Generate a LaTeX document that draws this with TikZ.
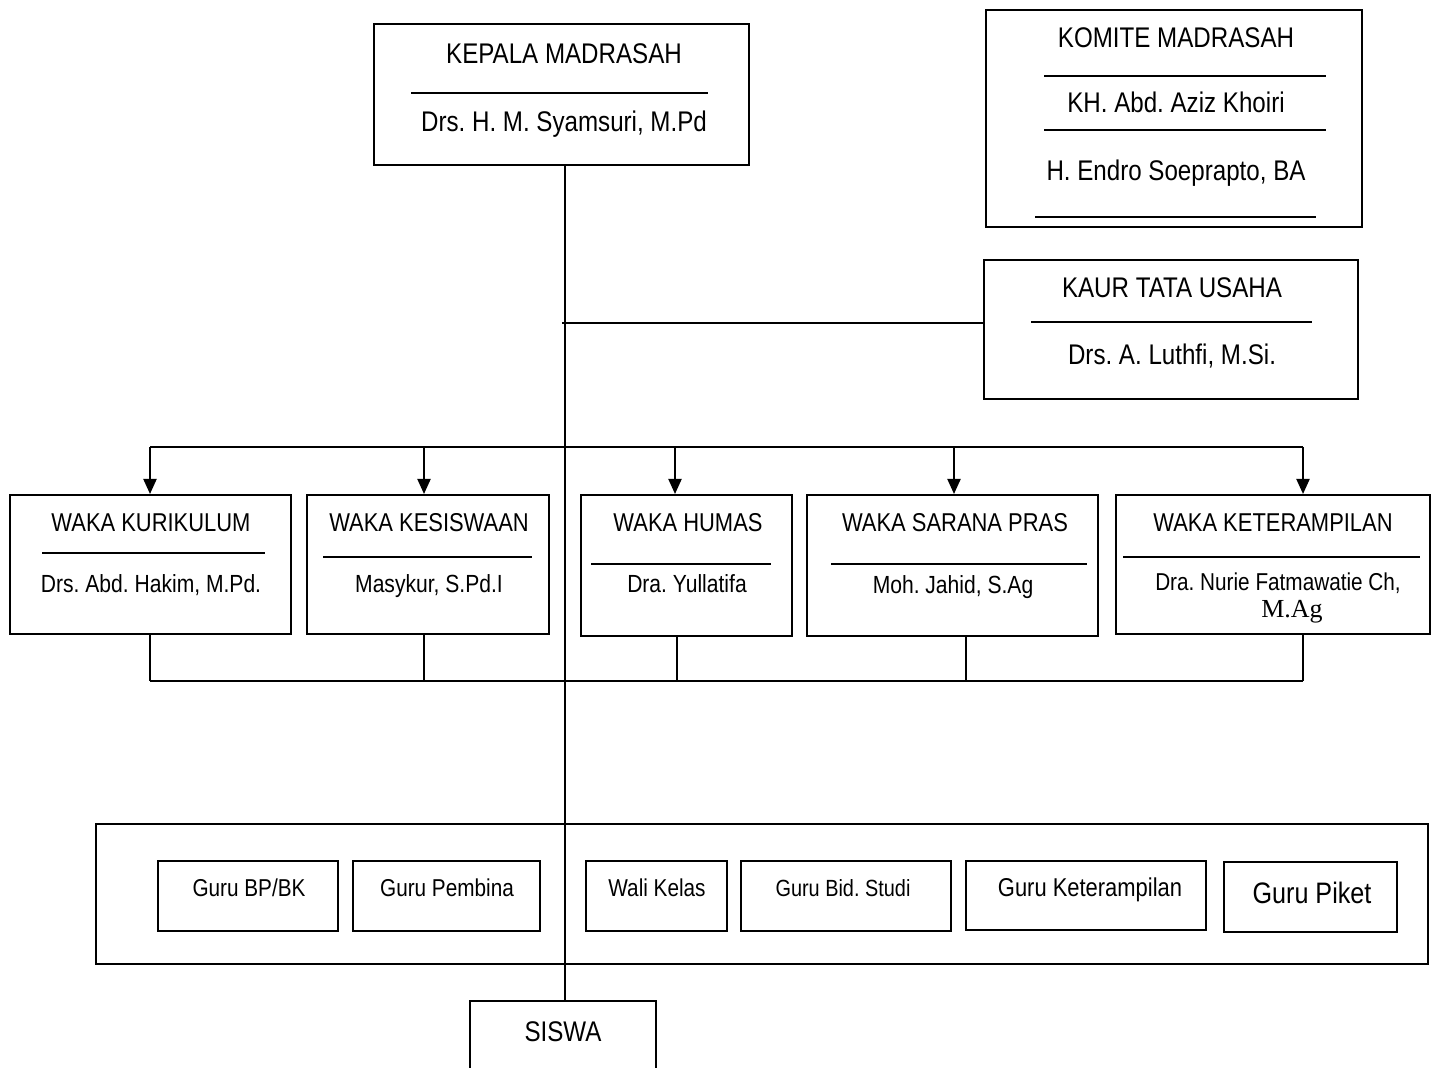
\documentclass[tikz,border=0pt]{standalone}
\usepackage{fontspec}
\setmainfont{Liberation Sans}[FakeStretch=0.85]
\newfontfamily\agfont{Liberation Serif}
\usetikzlibrary{arrows.meta}
\usetikzlibrary{fit}
\frenchspacing
\tikzset{
  box/.style={draw, line width=1pt, inner sep=0pt},
  head/.style={anchor=base, inner sep=0pt, font=\fontsize{14.2}{17}\selectfont},
  waka/.style={anchor=base, inner sep=0pt, font=\fontsize{12.9}{15}\selectfont},
  pejabat/.style={anchor=base, inner sep=0pt, font=\fontsize{12.4}{15}\selectfont},
  guru/.style={anchor=base, inner sep=0pt, font=\fontsize{12.2}{15}\selectfont},
  arr/.style={-{Triangle[width=6.5pt,length=7.5pt]}, line width=1pt},
}

\begin{document}
\begin{tikzpicture}[x=0.5pt,y=-0.5pt,line width=1pt]
\useasboundingbox (0,0) rectangle (1438,1068);
\clip (0,0) rectangle (1438,1068);

% kepala madrasah
\node[box, fit={(374,24) (749,165)}] (kepala) {};
\node[head] (kepala-j) at (564,64) {KEPALA MADRASAH};
\draw (411,93) -- (708,93);
\node[head] (kepala-n) at (564,132) {Drs. H. M. Syamsuri, M.Pd};

% komite
\node[box, fit={(986,10) (1362,227)}] (komite) {};
\node[head] (komite-j) at (1176,48) {KOMITE MADRASAH};
\draw (1044,76) -- (1326,76);
\node[head] (komite-a) at (1176,113) {KH. Abd. Aziz Khoiri};
\draw (1044,130) -- (1326,130);
\node[head] (komite-b) at (1176,181) {H. Endro Soeprapto, BA};
\draw (1035,217) -- (1316,217);

% tata usaha
\node[box, fit={(984,260) (1358,399)}] (kaur) {};
\node[head] (kaur-j) at (1172,298) {KAUR TATA USAHA};
\draw (1031,322) -- (1312,322);
\node[head] (kaur-n) at (1172,365) {Drs. A. Luthfi, M.Si.};

% waka
\node[box, fit={(10,495) (291,634)}] (kurikulum) {};
\node[waka] (kurikulum-j) at (151,531) {WAKA KURIKULUM};
\draw (42,553) -- (265,553);
\node[pejabat] (kurikulum-n) at (151,592) {Drs. Abd. Hakim, M.Pd.};

\node[box, fit={(307,495) (549,634)}] (kesiswaan) {};
\node[waka] (kesiswaan-j) at (429,531) {WAKA KESISWAAN};
\draw (323,557) -- (532,557);
\node[pejabat] (kesiswaan-n) at (429,592) {Masykur, S.Pd.I};

\node[box, fit={(581,495) (792,636)}] (humas) {};
\node[waka] (humas-j) at (688,531) {WAKA HUMAS};
\draw (591,564) -- (771,564);
\node[pejabat] (humas-n) at (687,592) {Dra. Yullatifa};

\node[box, fit={(807,495) (1098,636)}] (sarana) {};
\node[waka] (sarana-j) at (955,531) {WAKA SARANA PRAS};
\draw (831,564) -- (1087,564);
\node[pejabat] (sarana-n) at (953,593) {Moh. Jahid, S.Ag};

\node[box, fit={(1116,495) (1430,634)}] (keteramp) {};
\node[waka] (keteramp-j) at (1273,531) {WAKA KETERAMPILAN};
\draw (1123,557) -- (1420,557);
\node[guru] (keteramp-n) at (1278,590) {Dra. Nurie Fatmawatie Ch,};
\node[anchor=base, inner sep=0pt, font=\agfont\fontsize{13}{15}\selectfont] (keteramp-g) at (1292,617) {M.Ag};

% guru
\node[box, fit={(96,824) (1428,964)}] (guru) {};
\node[box, fit={(158,861) (338,931)}] (bpbk) {};
\node[guru] (bpbk-t) at (249,896) {Guru BP/BK};
\node[box, fit={(353,861) (540,931)}] (pembina) {};
\node[guru] (pembina-t) at (447,896) {Guru Pembina};
\node[box, fit={(586,861) (727,931)}] (wali) {};
\node[guru] (wali-t) at (657,896) {Wali Kelas};
\node[box, fit={(741,861) (951,931)}] (bidstudi) {};
\node[guru, font=\fontsize{11.7}{14}\selectfont] (bidstudi-t) at (843,896) {Guru Bid. Studi};
\node[box, fit={(966,861) (1206,930)}] (gurutr) {};
\node[guru, font=\fontsize{12.9}{15}\selectfont] (gurutr-t) at (1090,896) {Guru Keterampilan};
\node[box, fit={(1224,862) (1397,932)}] (piket) {};
\node[guru, font=\fontsize{14.8}{17}\selectfont] (piket-t) at (1312,903) {Guru Piket};

% siswa
\node[box, fit={(470,1001) (656,1100)}] (siswa) {};
\node[head] (siswa-t) at (563,1041) {SISWA};

% garis komando
\coordinate (spine) at (565,0);
\draw (spine |- kepala.south) -- (spine |- siswa.north);
\coordinate (tu) at (562,323);
\draw (tu) -- (tu -| kaur.west);
\coordinate (busL) at (150,447);
\coordinate (busR) at (1303,447);
\draw (busL) -- (busR);
\coordinate (lowL) at (150,681);
\coordinate (lowR) at (1303,681);
\draw (lowL) -- (lowR);
\foreach \n/\a/\b in {kurikulum/150/150, kesiswaan/424/424, humas/675/677, sarana/954/966, keteramp/1303/1303}{
  \coordinate (in) at (\a,447);
  \coordinate (out) at (\b,681);
  \draw[arr] (in) -- (in |- \n.north);
  \draw (\n.south -| out) -- (out);
}

\end{tikzpicture}
\end{document}
